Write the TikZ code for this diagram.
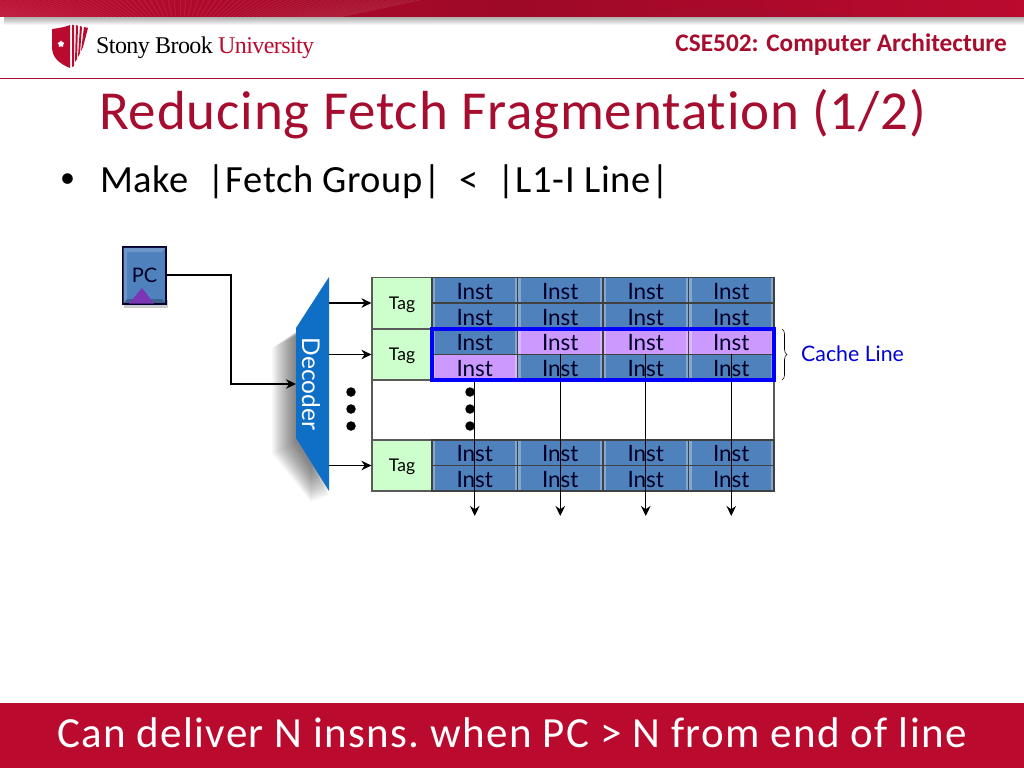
\documentclass[tikz,border=0pt]{standalone}
\usepackage{fontspec}
\setmainfont{Carlito}
\newfontfamily\gillfont{Lato}
\newfontfamily\logofont[LetterSpace=-2.5]{Liberation Serif}
\newfontfamily\titlefont[LetterSpace=1.55,Ligatures=NoCommon]{Carlito}
\newfontfamily\bodyfont[LetterSpace=1.6,Ligatures=NoCommon]{Carlito}
\newfontfamily\bandfont[LetterSpace=3.0,Ligatures=NoCommon]{Carlito}
\usetikzlibrary{arrows.meta,decorations.pathreplacing,shapes.geometric}
\definecolor{sbured}{HTML}{BA0A2E}
\definecolor{sbudark}{HTML}{A60D2E}
\definecolor{instblue}{HTML}{4F81BD}
\definecolor{instpurple}{HTML}{CC99FF}
\definecolor{pctri}{HTML}{7B35B5}
\definecolor{tabgreen}{HTML}{CCFFCC}
\definecolor{decblue}{HTML}{0F6FC6}
\tikzset{
	cell/.style={draw=black!75, line width=1.2pt, fill=#1, minimum width=85.5pt, minimum height=25.5pt, inner sep=0pt,
		font=\gillfont\fontsize{22.5}{22.5}\selectfont, text=black!85!blue, text depth=0pt, text height=18pt,
		path picture={
			\fill[white, opacity=0.3] (path picture bounding box.north west) rectangle ++(3,25.5);
			\fill[white, opacity=0.3] (path picture bounding box.north east) rectangle ++(-3,25.5);
		}},
	tagbox/.style={draw=black!65, line width=1.2pt, fill=tabgreen, minimum width=60pt, minimum height=51pt, inner sep=0pt,
		font=\gillfont\fontsize{17.5}{17.5}\selectfont, text depth=0pt},
	wire/.style={draw=black, line width=1.3pt},
	bigdot/.style={circle, fill=black, inner sep=0pt, minimum size=9.5pt}
}
\begin{document}
\begin{tikzpicture}[x=1pt, y=-1pt, >={Stealth[length=10pt, width=9.5pt]}]
	\useasboundingbox (0,0) rectangle (1024,768);
	\fill[white] (0,0) rectangle (1024,768);

	% top band
	\foreach \i in {0,...,7}
		\fill[black, opacity=0.045] (4,17) rectangle (1024,{18+\i});
	\shade[left color=sbured, right color=sbured, middle color=sbured!85!black] (0,0) rectangle (1024,17);
	\foreach \i in {0,4,...,340}
		\draw[white, opacity=0.08, line width=1pt] (\i,17) -- ({180+(\i-180)*1.5},0);
	\fill[sbudark, opacity=0.7] (640,17) -- (900,17) -- (700,6) -- cycle;

	% logo
	\fill[sbured] (52,29) .. controls (60,28) and (65,27) .. (70,25) -- (70,68) .. controls (60,64) and (52,58) .. (52,47) -- cycle;
	\node[star, star points=5, fill=white, inner sep=0pt, minimum size=7pt] (logostar) at (61,44) {};
	\fill[sbured] (72,25) -- (74,25) -- (74,66) -- (72,67) -- cycle;
	\fill[sbured] (76,25) -- (78,26) -- (77,59) -- (75,62) -- cycle;
	\fill[sbured] (80,26) -- (82,27) -- (80,53) -- (78,57) -- cycle;
	\fill[sbured] (84,27) -- (88,28) -- (83,47) -- (81,51) -- cycle;
	\node[anchor=west, inner sep=0pt, font=\logofont\fontsize{24}{24}\selectfont] (logotext) at (96,47.5) {Stony Brook \textcolor{sbured}{University}};
	\node[anchor=east, inner sep=0pt, font=\bfseries\fontsize{25.3}{25.3}\selectfont, text=sbudark] (course) at (1007,45) {CSE502: Computer Architecture};
	\draw[sbudark, line width=1pt] (0,78) -- (1024,78);

	% title and bullet
	\node[anchor=west, inner sep=0pt, font=\titlefont\fontsize{55}{55}\selectfont, text=sbudark] (title) at (99,114) {Reducing Fetch Fragmentation (1/2)};
	\node[anchor=west, inner sep=0pt, font=\fontsize{30}{30}\selectfont] (bullet) at (60,181) {•};
	\node[anchor=west, inner sep=0pt, font=\bodyfont\fontsize{38.5}{38.5}\selectfont] (make) at (100,182) {Make\ \ |Fetch Group|\ \ <\ \ |L1-I Line|};

	% PC
	\fill[black, opacity=0.2] (124,300) rectangle (168,308);
	\node[draw=black!80!blue, line width=1.5pt, fill=instblue, minimum width=43pt, minimum height=57pt, inner sep=0pt] (pc) at (144.5,275.5) {};
	\fill[white, opacity=0.18] (123,247.5) -- (166,247.5) -- (162,252) -- (127,252) -- cycle;
	\fill[white, opacity=0.18] (123,247.5) -- (127,252) -- (127,299) -- (123,304) -- cycle;
	\fill[black, opacity=0.25] (123,304) -- (127,299) -- (162,299) -- (166,304) -- cycle;
	\fill[pctri] (142,288) -- (154,303.5) -- (129,303.5) -- cycle;
	\node[inner sep=0pt, font=\gillfont\fontsize{20}{20}\selectfont, text=black!85!blue] (pctext) at (144.5,275.5) {PC};

	% decoder
	\foreach \i in {1,...,24}
		\fill[black, opacity=0.024] ({329-0.75*\i},{310+0.5*\i}) -- ({329-0.75*\i},{496+0.25*\i}) -- ({296-\i},{442+0.5*\i}) -- ({296-\i},{336+0.5*\i}) -- cycle;
	\fill[decblue] (329,277) -- (329,491) -- (296,438) -- (296,328) -- cycle;
	\node[rotate=-90, inner sep=0pt, font=\gillfont\fontsize{24.5}{24.5}\selectfont, text=white] (decoder) at (311,384) {Decoder};
	\coordinate (decin) at (296,384);
	\coordinate (decout1) at (329,303);
	\coordinate (decout2) at (329,354.5);
	\coordinate (decout3) at (329,465.5);
	\coordinate (bend) at (231,384);

	% cache array
	\draw[black!65, line width=1.2pt] (372,380) -- (372,440);
	\draw[black!65, line width=1.2pt] (774,380) -- (774,440);
	\node[tagbox] (tag1) at (402,303) {Tag};
	\node[tagbox] (tag2) at (402,354.5) {Tag};
	\node[tagbox] (tag3) at (402,465.5) {Tag};
	\foreach \row/\y in {1/290.25, 2/316, 3/341.75, 4/367.25, 5/452.75, 6/478.25}
		\foreach \col/\x in {1/474.75, 2/560.25, 3/645.75, 4/731.25}
			\node[cell=instblue] (c\row\col) at (\x,\y) {Inst};
	\foreach \row/\col/\y/\x in {3/2/341.75/560.25, 3/3/341.75/645.75, 3/4/341.75/731.25, 4/1/367.25/474.75}
		\node[cell=instpurple] (c\row\col) at (\x,\y) {Inst};

	% wires
	\draw[wire, ->] (pc.east |- 0,275) -- (231,275) -- (bend) -- (decin);
	\draw[wire, ->] (decout1) -- (tag1.west);
	\draw[wire, ->] (decout2) -- (tag2.west);
	\draw[wire, ->] (decout3) -- (tag3.west);
	\foreach \col in {1,...,4}
		\coordinate (out\col) at (c6\col |- 0,516);
	\draw[wire, ->] (c41.south) -- (out1);
	\draw[wire, ->] (c42.north) -- (out2);
	\draw[wire, ->] (c43.north) -- (out3);
	\draw[wire, ->] (c44.north) -- (out4);

	% dots
	\foreach \y [count=\n] in {392,409,426} {
		\node[bigdot] (dota\n) at (351,\y) {};
		\node[bigdot] (dotb\n) at (470,\y) {};
	}

	% cache line
	\draw[blue, line width=3.5pt] (432,329) rectangle (774,380);
	\coordinate (bracetop) at (782,329);
	\coordinate (bracebot) at (782,380);
	\draw[black, line width=0.6pt, decorate, decoration={brace, amplitude=5pt}] (bracetop) -- (bracebot);
	\node[anchor=west, inner sep=0pt, font=\gillfont\fontsize{21.3}{21.3}\selectfont, text=blue!85!black] (cacheline) at (801,354) {Cache Line};

	% bottom band
	\fill[sbured] (0,703) rectangle (1024,768);
	\node[inner sep=0pt, font=\bandfont\fontsize{43}{43}\selectfont, text=white] (bottomline) at (512,733) {\frenchspacing Can deliver N insns. when PC > N from end of line};
\end{tikzpicture}
\end{document}
